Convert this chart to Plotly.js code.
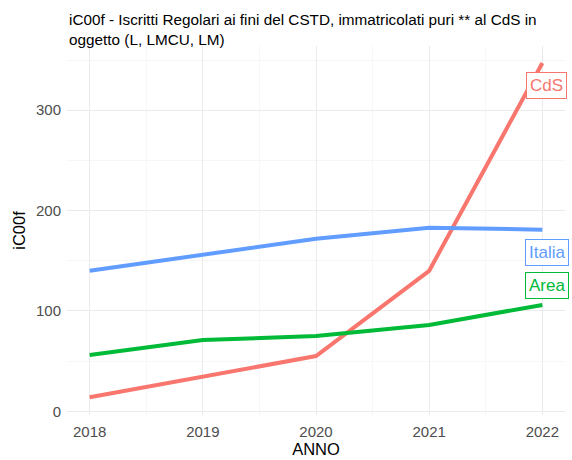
<!DOCTYPE html>
<html>
<head>
<meta charset="utf-8">
<script src="https://cdn.plot.ly/plotly-3.0.1.min.js"></script>
<style>html,body{margin:0;padding:0;background:#fff;}#chart{width:572px;height:460px;}</style>
</head>
<body>
<div id="chart"></div>
<script>
const years = [2018, 2019, 2020, 2021, 2022];
const cds = [14, 35, 55, 140, 347];
const area = [56, 71, 75, 86, 106];
const italia = [140, 156, 172, 183, 181];
const seriesNames = ["CdS", "Area", "Italia"];
const colors = ["#F8766D", "#00BA38", "#619CFF"];
const labelY = [325, 125.5, 158.5];
const values = [cds, area, italia];
const titleText = "iC00f - Iscritti Regolari ai fini del CSTD, immatricolati puri ** al CdS in<br>oggetto (L, LMCU, LM)";

const traces = values.map((v, i) => ({
  x: years, y: v, type: "scatter", mode: "lines", name: seriesNames[i],
  line: {color: colors[i], width: 4}, showlegend: false, hoverinfo: "skip"
}));

const annotations = seriesNames.map((n, i) => ({
  x: 2022.04, y: labelY[i], xref: "x", yref: "y", text: n, showarrow: false,
  font: {family: "Liberation Sans, Arial, sans-serif", size: 17, color: colors[i]},
  bgcolor: "#FFFFFF", bordercolor: colors[i], borderwidth: 1, borderpad: 3,
  xanchor: "center", yanchor: "middle"
}));
annotations.push({
  x: 0, y: 1 + (46 - 9) / 369, xref: "paper", yref: "paper", xanchor: "left", yanchor: "top",
  align: "left", showarrow: false, text: titleText,
  font: {family: "Liberation Sans, Arial, sans-serif", size: 15.3, color: "#000000"}
});

const layout = {
  width: 572, height: 460,
  margin: {l: 67, r: 7, t: 46, b: 45},
  paper_bgcolor: "#FFFFFF", plot_bgcolor: "#FFFFFF",
  font: {family: "Liberation Sans, Arial, sans-serif", color: "#000000"},
  xaxis: {
    range: [2017.8, 2022.2], tickmode: "array", tickvals: years, ticktext: years.map(String),
    showgrid: true, gridcolor: "#EBEBEB", gridwidth: 1, zeroline: false, showline: false,
    ticks: "outside", ticklen: 3, tickcolor: "rgba(0,0,0,0)", tickfont: {size: 15, color: "#4D4D4D"},
    minor: {tickmode: "array", tickvals: [2018.5, 2019.5, 2020.5, 2021.5], showgrid: true, gridcolor: "#F2F2F2", gridwidth: 0.6},
    title: {text: "ANNO", font: {size: 16.5, color: "#000000"}, standoff: 2}
  },
  yaxis: {
    range: [-3.7, 364], tickmode: "array", tickvals: [0, 100, 200, 300], ticktext: ["0", "100", "200", "300"],
    showgrid: true, gridcolor: "#EBEBEB", gridwidth: 1, zeroline: false, showline: false,
    ticks: "outside", ticklen: 2, tickcolor: "rgba(0,0,0,0)", tickfont: {size: 15, color: "#4D4D4D"},
    minor: {tickmode: "array", tickvals: [50, 150, 250, 350], showgrid: true, gridcolor: "#F2F2F2", gridwidth: 0.6},
    title: {text: "iC00f", font: {size: 16.5, color: "#000000"}, standoff: 6}
  },
  annotations: annotations
};

Plotly.newPlot("chart", traces, layout, {displayModeBar: false, staticPlot: true});
</script>
</body>
</html>
